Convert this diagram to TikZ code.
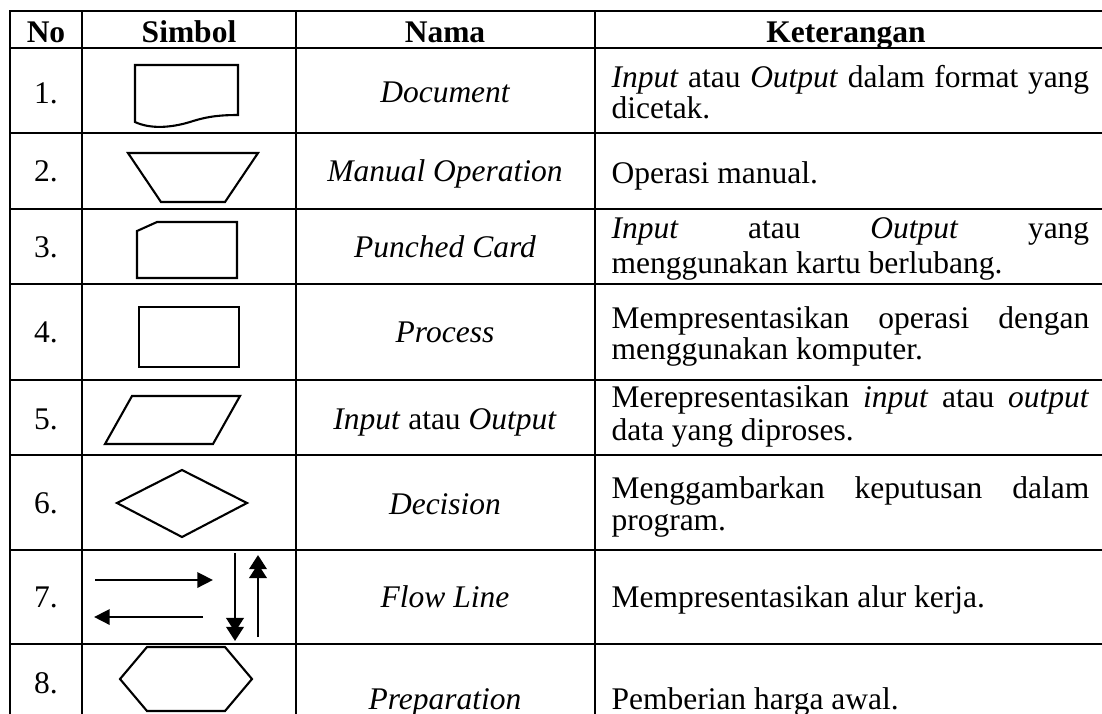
\documentclass[tikz,border=0pt]{standalone}
\usepackage{fontspec}
\setmainfont{Liberation Serif}
\usetikzlibrary{arrows.meta}

\tikzset{
  gridline/.style={line width=1pt,line cap=rect},
  symbol/.style={line width=0.8pt},
  cell/.style={inner sep=0pt,anchor=base,font=\fontsize{12}{14}\selectfont},
  headcell/.style={cell,font=\fontsize{12}{14}\selectfont\bfseries},
  desc/.style={inner sep=0pt,anchor=base west,text width=182pt,align=justify,
    font=\fontsize{12}{#1}\selectfont},
  flow/.style={line width=1.1pt,-{Triangle[length=6pt,width=5.8pt]}},
  flowdbl/.style={line width=1.1pt,
    -{Triangle[length=5.4pt,width=6.6pt,sep=-2pt]Triangle[length=5.4pt,width=6.6pt]}}
}

\begin{document}
\begin{tikzpicture}[x=0.381pt,y=-0.381pt]
  \useasboundingbox (0,0) rectangle (1102,713);
  \clip (0,0) rectangle (1102,713);

  \foreach \y in {11,48,133,209,284,380,455,550,644}
    \draw[gridline] (10,\y) -- (1110,\y);
  \foreach \x in {10,82,296,595}
    \draw[gridline] (\x,11) -- (\x,720);

  \node[headcell] (hno) at (46,42) {No};
  \node[headcell] (hsimbol) at (189,42) {Simbol};
  \node[headcell] (hnama) at (445,42) {Nama};
  \node[headcell] (hket) at (846,42) {Keterangan};

  \foreach \n/\y in {1/103,2/181,3/257,4/342,5/429,6/513,7/607,8/693}
    \node[cell] (no\n) at (46,\y) {\n.};

  \draw[symbol] (238,115) -- (238,65) -- (135,65) -- (135,122)
    .. controls (150,129) and (170,128) .. (190,122)
    .. controls (208,116) and (222,115) .. (238,115) -- cycle;
  \draw[symbol] (128,153) -- (258,153) -- (225,202) -- (161,202) -- cycle;
  \draw[symbol] (157,222) -- (237,222) -- (237,278) -- (137,278) -- (137,231) -- cycle;
  \draw[symbol] (139,307) rectangle (239,367);
  \draw[symbol] (132,396) -- (240,396) -- (213,444) -- (105,444) -- cycle;
  \draw[symbol] (117,503) -- (182,470) -- (247,503) -- (182,537) -- cycle;
  \coordinate (kanan1) at (95,580);  \coordinate (kanan2) at (213,580);
  \coordinate (kiri1) at (203,617);  \coordinate (kiri2) at (94,617);
  \coordinate (bawah1) at (235,553); \coordinate (bawah2) at (235,641);
  \coordinate (atas1) at (258,637);  \coordinate (atas2) at (258,555);
  \draw[flow] (kanan1) -- (kanan2);
  \draw[flow] (kiri1) -- (kiri2);
  \draw[flowdbl] (bawah1) -- (bawah2);
  \draw[flowdbl] (atas1) -- (atas2);
  \draw[symbol] (120,679) -- (147,647) -- (225,647) -- (252,679) -- (225,711) -- (147,711) -- cycle;

  \node[cell] (nama1) at (445,102) {\itshape Document};
  \node[cell] (nama2) at (445,181) {\itshape Manual Operation};
  \node[cell] (nama3) at (445,257) {\itshape Punched Card};
  \node[cell] (nama4) at (445,342) {\itshape Process};
  \node[cell] (nama5) at (445,429) {\textit{Input} atau \textit{Output}};
  \node[cell] (nama6) at (445,514) {\itshape Decision};
  \node[cell] (nama7) at (445,607) {\itshape Flow Line};
  \node[cell] (nama8) at (445,709) {\itshape Preparation};

  \node[desc=11.9pt] (ket1) at (611,87)
    {\textit{Input} atau \textit{Output} dalam format yang\linebreak dicetak.};
  \node[desc=14pt] (ket2) at (611,183) {Operasi manual.};
  \node[desc=13.5pt] (ket3) at (611,238)
    {\textit{Input} atau \textit{Output} yang\linebreak menggunakan kartu berlubang.};
  \node[desc=12pt] (ket4) at (611,328)
    {Mempresentasikan operasi dengan\linebreak menggunakan komputer.};
  \node[desc=12.8pt] (ket5) at (611,407)
    {Merepresentasikan \textit{input} atau \textit{output}\linebreak data yang diproses.};
  \node[desc=12.2pt] (ket6) at (611,498)
    {Menggambarkan keputusan dalam\linebreak program.};
  \node[desc=14pt] (ket7) at (611,607) {Mempresentasikan alur kerja.};
  \node[desc=14pt] (ket8) at (611,709) {Pemberian harga awal.};
\end{tikzpicture}
\end{document}
